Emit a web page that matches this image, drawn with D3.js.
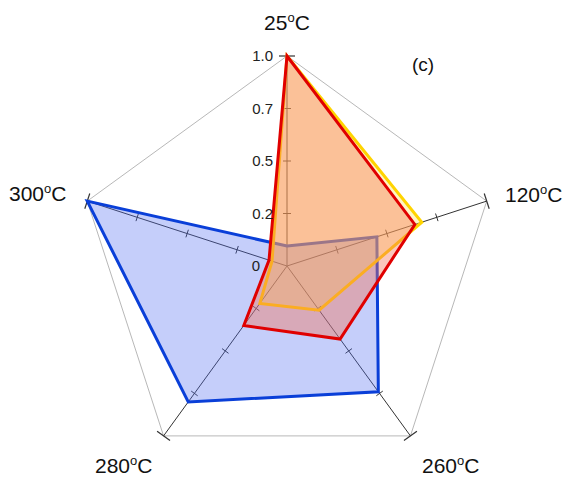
<!DOCTYPE html>
<html>
<head>
<meta charset="utf-8">
<script src="https://cdn.jsdelivr.net/npm/d3@7"></script>
<style>
  html, body { margin: 0; padding: 0; background: #fff; }
  svg { display: block; font-family: "Liberation Sans", Arial, sans-serif; }
</style>
</head>
<body>
<svg id="chart" width="566" height="477"></svg>
<script>
// Radar axes (temperatures), clockwise from the top
const axisTemps = ["25", "120", "260", "280", "300"];
// Normalised values per axis
const blueValues   = [0.095, 0.45, 0.74, 0.80, 1.0];
const yellowValues = [1.0, 0.675, 0.26, 0.22, 0.075];
const redValues    = [1.0, 0.64, 0.43, 0.35, 0.09];
// Tick positions along each axis and the labels shown on the top axis
const tickValues = [0.25, 0.5, 0.75];
const tickLabelValues = [0, 0.25, 0.5, 0.75, 1.0];
const tickLabels = ["0", "0.2", "0.5", "0.7", "1.0"];

const svg = d3.select("#chart");
const cx = 287, cy = 266, R = 210;

const r = d3.scaleLinear().domain([0, 1]).range([0, R]);
const angle = d3.scaleLinear().domain([0, axisTemps.length]).range([0, 2 * Math.PI]);

function pt(i, v) {
  const a = angle(i);
  return [cx + r(v) * Math.sin(a), cy - r(v) * Math.cos(a)];
}

const g = svg.append("g");

// Outer pentagon
g.append("path")
  .attr("d", d3.line()(axisTemps.map((_, i) => pt(i, 1))) + "Z")
  .attr("fill", "none")
  .attr("stroke", "#b8b8b8")
  .attr("stroke-width", 1);

// Axes with ticks
axisTemps.forEach((_, i) => {
  const a = angle(i);
  const [x1, y1] = pt(i, 1);
  g.append("line")
    .attr("x1", cx).attr("y1", cy).attr("x2", x1).attr("y2", y1)
    .attr("stroke", "#333").attr("stroke-width", 1);
  const px = Math.cos(a), py = Math.sin(a); // perpendicular direction
  tickValues.forEach(t => {
    const [tx, ty] = pt(i, t);
    g.append("line")
      .attr("x1", tx - px * 4).attr("y1", ty - py * 4)
      .attr("x2", tx + px * 4).attr("y2", ty + py * 4)
      .attr("stroke", "#333").attr("stroke-width", 1);
  });
  g.append("line")
    .attr("x1", x1 - px * 8).attr("y1", y1 - py * 8)
    .attr("x2", x1 + px * 8).attr("y2", y1 + py * 8)
    .attr("stroke", "#333").attr("stroke-width", 1.2);
});

// Data polygons
const series = [
  { values: blueValues,   fill: "rgba(80,105,240,0.33)", stroke: "#0a3fd8" },
  { values: yellowValues, fill: "rgba(255,225,90,0.35)", stroke: "#ffd400" },
  { values: redValues,    fill: "rgba(245,115,85,0.40)", stroke: "#e00000" }
];
const line = d3.line();
series.forEach(s => {
  g.append("path")
    .attr("d", line(s.values.map((v, i) => pt(i, v))) + "Z")
    .attr("fill", s.fill)
    .attr("stroke", s.stroke)
    .attr("stroke-width", 3)
    .attr("stroke-linejoin", "miter");
});

// Tick labels on the top axis
tickLabelValues.forEach((v, k) => {
  const [, y] = pt(0, v);
  g.append("text")
    .attr("x", k === 0 ? 260 : 273)
    .attr("y", y)
    .attr("dy", "0.35em")
    .attr("text-anchor", "end")
    .attr("font-size", 15)
    .attr("fill", "#222")
    .text(tickLabels[k]);
});

// Axis titles with superscript degree mark
const titlePos = [
  { x: 287, y: 30, anchor: "middle" },
  { x: 505, y: 202, anchor: "start" },
  { x: 422, y: 473, anchor: "start" },
  { x: 95, y: 473, anchor: "start" },
  { x: 9, y: 201, anchor: "start" }
];
axisTemps.forEach((t, i) => {
  const p = titlePos[i];
  const txt = g.append("text")
    .attr("x", p.x).attr("y", p.y)
    .attr("text-anchor", p.anchor)
    .attr("font-size", 21)
    .attr("fill", "#111");
  txt.append("tspan").text(t);
  txt.append("tspan").attr("font-size", 13).attr("dy", -8).text("o");
  txt.append("tspan").attr("dy", 8).text("C");
});

g.append("text")
  .attr("x", 423).attr("y", 71)
  .attr("text-anchor", "middle")
  .attr("font-size", 19)
  .attr("fill", "#111")
  .text("(c)");
</script>
</body>
</html>
